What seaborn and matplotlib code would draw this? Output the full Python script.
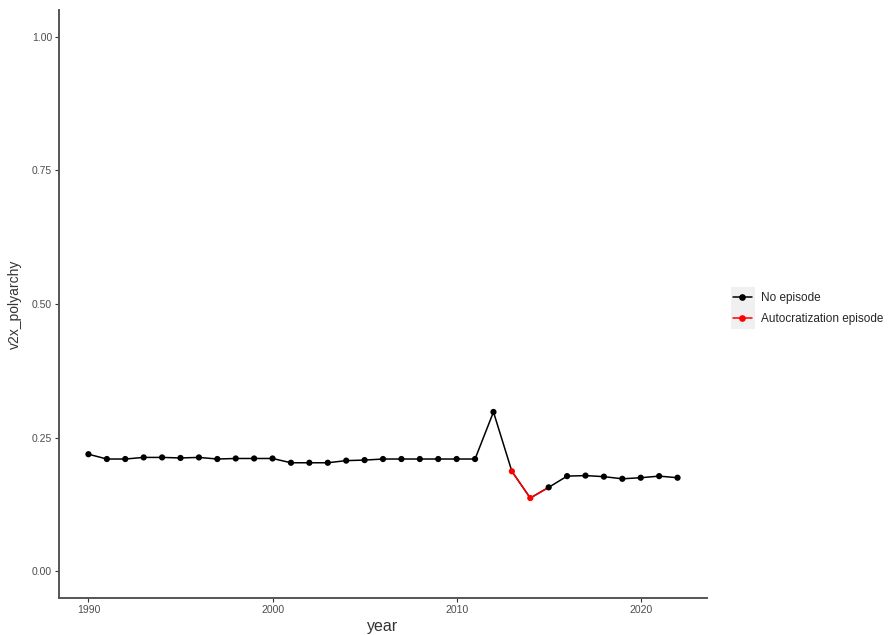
import numpy as np
import pandas as pd
import matplotlib
matplotlib.use("Agg")
import matplotlib.pyplot as plt
from matplotlib.lines import Line2D
from matplotlib.patches import Rectangle
import seaborn as sns

years = list(range(1990, 2023))
polyarchy = [0.219, 0.210, 0.210, 0.213, 0.213, 0.212, 0.213, 0.210, 0.211, 0.211,
             0.211, 0.203, 0.203, 0.203, 0.207, 0.208, 0.210, 0.210, 0.210, 0.210,
             0.210, 0.210, 0.298, 0.187, 0.137, 0.157, 0.178, 0.179, 0.177, 0.173,
             0.175, 0.178, 0.175]
episode = ["No episode"] * 23 + ["Autocratization episode"] * 2 + ["No episode"] * 8
legend_labels = ["No episode", "Autocratization episode"]
colors = {"No episode": "black", "Autocratization episode": "red"}

df = pd.DataFrame({"year": years, "v2x_polyarchy": polyarchy, "episode": episode})

sns.set_style("white")
plt.rcParams["font.family"] = ["Liberation Sans", "DejaVu Sans"]

fig = plt.figure(figsize=(8.89, 6.35), dpi=100)
ax = fig.add_axes([59 / 889, 1 - 598 / 635, (707 - 59) / 889, (598 - 10) / 635])

# line segments coloured by the episode of their starting point
sns.lineplot(data=df, x="year", y="v2x_polyarchy", color="black", lw=1.1, ax=ax,
             legend=False, zorder=2)
red_idx = [i for i, e in enumerate(episode) if e == "Autocratization episode"]
seg_rows = sorted(set(red_idx + [i + 1 for i in red_idx]))
sns.lineplot(data=df.iloc[seg_rows], x="year", y="v2x_polyarchy", color="red", lw=1.1,
             ax=ax, legend=False, zorder=3)
sns.scatterplot(data=df, x="year", y="v2x_polyarchy", hue="episode", palette=colors,
                s=20, edgecolor="none", ax=ax, legend=False, zorder=4)

ax.set_xlim(1988.4, 2023.6)
ax.set_ylim(-0.05, 1.05)
ax.set_xticks([1990, 2000, 2010, 2020])
ax.set_yticks([0, 0.25, 0.5, 0.75, 1.0])
ax.set_yticklabels(["0.00", "0.25", "0.50", "0.75", "1.00"])
ax.tick_params(axis="both", length=3, width=0.8, color="#333333", labelsize=7.5,
               labelcolor="#4D4D4D", pad=2, direction="out", bottom=True, left=True)
for s in ["top", "right"]:
    ax.spines[s].set_visible(False)
for s in ["left", "bottom"]:
    ax.spines[s].set_color("#555555")
    ax.spines[s].set_linewidth(1.4)
ax.set_xlabel("year", fontsize=11.5, color="#333333", labelpad=3)
ax.set_ylabel("v2x_polyarchy", fontsize=10, color="#333333", labelpad=7)
ax.grid(False)

# legend
fig.patches.append(Rectangle((731 / 889, 1 - 329 / 635), 24 / 889, 42 / 635,
                             transform=fig.transFigure, facecolor="#F0F0F0",
                             edgecolor="none", zorder=0))
handles = [Line2D([0], [0], color=colors[l], marker="o", markersize=3.8, lw=1.1)
           for l in legend_labels]
fig.legend(handles, legend_labels, loc="center left", bbox_to_anchor=(733 / 889, 1 - 308.5 / 635),
           frameon=False, fontsize=8.5, handlelength=1.6, handletextpad=0.8,
           labelspacing=0.8, borderaxespad=0, borderpad=0)

fig.savefig("out.png", dpi=100)
